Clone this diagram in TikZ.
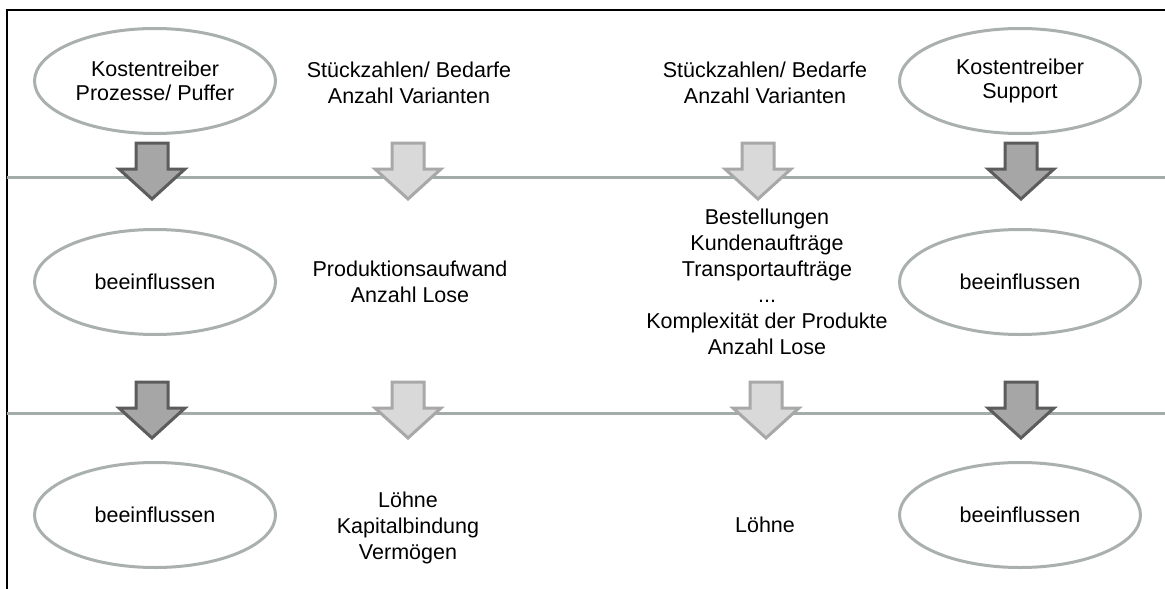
\documentclass[tikz,border=0pt]{standalone}
\usepackage{fontspec}
\setmainfont{Liberation Sans}
\usetikzlibrary{shapes.geometric}

\definecolor{rulegray}{HTML}{A3ACA8}
\definecolor{ovalgray}{HTML}{A9B0AE}
\definecolor{darkedge}{HTML}{5C5C5C}
\definecolor{darkfill}{HTML}{A6A6A6}
\definecolor{lightedge}{HTML}{A8A8A8}
\definecolor{lightfill}{HTML}{D9D9D9}

\tikzset{
  oval/.style={ellipse, draw=ovalgray, line width=3pt, fill=white,
    minimum width=241pt, minimum height=105pt, inner sep=0pt,
    align=center, font=\fontsize{21.5}{24.5}\selectfont},
  label/.style={align=center, inner sep=0pt,
    font=\fontsize{21.5}{26}\selectfont},
  separator/.style={draw=rulegray, line width=3pt},
  arrowbody/.style={line width=3pt, line join=miter},
  darkarrow/.style={arrowbody, draw=darkedge, fill=darkfill},
  lightarrow/.style={arrowbody, draw=lightedge, fill=lightfill},
  pics/downarrow/.style={code={
    \path[pic actions] (-16,0) -- (16,0) -- (16,26) -- (33,26) -- (0,56)
      -- (-33,26) -- (-16,26) -- cycle;}},
}

\begin{document}
\begin{tikzpicture}[x=1pt, y=-1pt]
  \useasboundingbox (0,0) rectangle (1165,589);

  % frame
  \draw[line width=1.2pt, black] (7,589) -- (7,10) -- (1165,10);

  % level separators
  \coordinate (s1l) at (7,177);   \coordinate (s1r) at (1165,177);
  \coordinate (s2l) at (7,413);   \coordinate (s2r) at (1165,413);
  \draw[separator] (s1l) -- (s1r);
  \draw[separator] (s2l) -- (s2r);

  % first level
  \node[oval]  (kp)  at (155,81)  {Kostentreiber\\Prozesse/ Puffer};
  \node[label] (sb1) at (409,83)  {Stückzahlen/ Bedarfe\\Anzahl Varianten};
  \node[label] (sb2) at (765,83)  {Stückzahlen/ Bedarfe\\Anzahl Varianten};
  \node[oval]  (ks)  at (1020,81) {Kostentreiber\\Support};

  % second level
  \node[oval]  (b1)  at (155,282)  {beeinflussen};
  \node[label] (pa)  at (410,282)  {Produktionsaufwand\\Anzahl Lose};
  \node[label] (bk)  at (767,282)  {Bestellungen\\Kundenaufträge\\Transportaufträge\\...\\Komplexität der Produkte\\Anzahl Lose};
  \node[oval]  (b2)  at (1020,282) {beeinflussen};

  % third level
  \node[oval]  (b3) at (155,515)   {beeinflussen};
  \node[label] (lk) at (408,527.5) {Löhne\\Kapitalbindung\\Vermögen};
  \node[label] (lo) at (765,525)   {Löhne};
  \node[oval]  (b4) at (1020,515)  {beeinflussen};

  % block arrows between the levels
  \pic[darkarrow]  at (152,143)  {downarrow};
  \pic[lightarrow] at (408,143)  {downarrow};
  \pic[lightarrow] at (758,143)  {downarrow};
  \pic[darkarrow]  at (1021,143) {downarrow};

  \pic[darkarrow]  at (152,382)  {downarrow};
  \pic[lightarrow] at (408,382)  {downarrow};
  \pic[lightarrow] at (766,382)  {downarrow};
  \pic[darkarrow]  at (1021,382) {downarrow};
\end{tikzpicture}
\end{document}
